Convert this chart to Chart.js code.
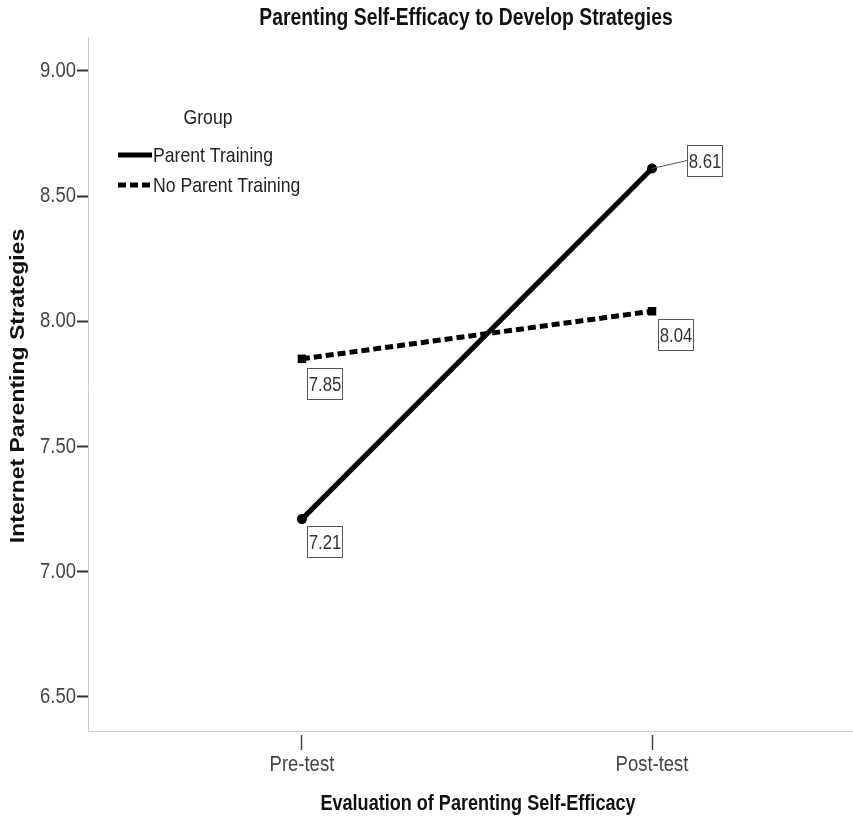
<!DOCTYPE html>
<html>
<head>
<meta charset="utf-8">
<script src="https://cdn.jsdelivr.net/npm/chart.js@4"></script>
<style>
  html, body { margin: 0; padding: 0; background: #fff; }
  #wrap { width: 853px; height: 819px; }
</style>
</head>
<body>
<div id="wrap"><canvas id="c" width="853" height="819"></canvas></div>
<script>
// ---- data ----
const categories = ['Pre-test', 'Post-test'];
const parentTraining = [7.21, 8.61];
const noParentTraining = [7.85, 8.04];
const yTicks = [6.5, 7.0, 7.5, 8.0, 8.5, 9.0];
const seriesNames = ['Parent Training', 'No Parent Training'];

const FONT = '"Liberation Sans", Arial, sans-serif';
const SQ = 0.84; // horizontal squeeze of the reference's text

// label box placement (style): offsets relative to each point
const labelOffsets = [
  [{dx: 5, dy: 7}, {dx: 35, dy: -23, leader: true}],
  [{dx: 5, dy: 9}, {dx: 6, dy: 8}]
];

function txt(ctx, s, x, y, size, weight, align, color, rotate) {
  ctx.save();
  ctx.translate(x, y);
  if (rotate) {
    ctx.rotate(-Math.PI / 2);
    ctx.scale(1, SQ);
  } else {
    ctx.scale(SQ, 1);
  }
  ctx.font = (weight ? weight + ' ' : '') + size + 'px ' + FONT;
  ctx.textAlign = align;
  ctx.textBaseline = 'middle';
  ctx.fillStyle = color;
  ctx.fillText(s, 0, 0);
  ctx.restore();
}

const overlay = {
  id: 'overlay',
  afterDraw(chart) {
    const ctx = chart.ctx;
    ctx.save();
    // Titles
    txt(ctx, 'Parenting Self-Efficacy to Develop Strategies', 466, 19, 23, 'bold', 'center', '#111');
    txt(ctx, 'Evaluation of Parenting Self-Efficacy', 478, 804, 21.5, 'bold', 'center', '#111');
    txt(ctx, 'Internet Parenting Strategies', 19, 386, 23, 'bold', 'center', '#111', true);

    // Tick labels through the scales
    const xs = chart.scales.x, ys = chart.scales.y;
    yTicks.forEach(v => {
      txt(ctx, v.toFixed(2), 76, ys.getPixelForValue(v), 22, '', 'right', '#444');
    });
    categories.forEach((c, i) => {
      txt(ctx, c, xs.getPixelForValue(i), 765, 22, '', 'center', '#444');
    });

    // Legend
    txt(ctx, 'Group', 208, 118, 21, '', 'center', '#222');
    const legY = [155, 185];
    chart.data.datasets.forEach((ds, i) => {
      ctx.save();
      ctx.strokeStyle = '#000';
      ctx.lineWidth = 5;
      ctx.setLineDash(ds.borderDash || []);
      ctx.beginPath();
      ctx.moveTo(118, legY[i]);
      ctx.lineTo(152, legY[i]);
      ctx.stroke();
      ctx.restore();
      txt(ctx, ds.label, 153, legY[i] + 1, 21, '', 'left', '#222');
    });

    // Value boxes
    chart.data.datasets.forEach((ds, di) => {
      const meta = chart.getDatasetMeta(di);
      meta.data.forEach((pt, pi) => {
        const off = labelOffsets[di][pi];
        const bx = Math.round(pt.x + off.dx), by = Math.round(pt.y + off.dy);
        const w = 35, h = 31;
        const v = ds.data[pi].y;
        if (off.leader) {
          ctx.strokeStyle = '#555';
          ctx.lineWidth = 1;
          ctx.setLineDash([]);
          ctx.beginPath();
          ctx.moveTo(pt.x, pt.y);
          ctx.lineTo(bx, by + h / 2);
          ctx.stroke();
        }
        ctx.fillStyle = '#fff';
        ctx.fillRect(bx, by, w, h);
        ctx.strokeStyle = '#555';
        ctx.lineWidth = 1;
        ctx.strokeRect(bx + 0.5, by + 0.5, w, h);
        txt(ctx, v.toFixed(2), bx + w / 2 + 0.5, by + h / 2 + 1.5, 20, '', 'center', '#333');
      });
    });
    ctx.restore();
  }
};

const toXY = arr => arr.map((v, i) => ({x: i, y: v}));

new Chart(document.getElementById('c'), {
  type: 'line',
  data: {
    datasets: [
      {
        label: seriesNames[0],
        data: toXY(parentTraining),
        borderColor: '#000',
        backgroundColor: '#000',
        borderWidth: 5,
        pointStyle: 'circle',
        pointRadius: 5,
        pointBorderWidth: 0,
        tension: 0
      },
      {
        label: seriesNames[1],
        data: toXY(noParentTraining),
        borderColor: '#000',
        backgroundColor: '#000',
        borderWidth: 5,
        borderDash: [8, 4],
        pointStyle: 'rect',
        pointRadius: 6,
        pointBorderWidth: 0,
        tension: 0
      }
    ]
  },
  options: {
    responsive: false,
    animation: false,
    devicePixelRatio: 1,
    layout: { autoPadding: false, padding: { top: 37, right: 0, left: 0, bottom: 0 } },
    plugins: {
      legend: { display: false },
      title: { display: false },
      tooltip: { enabled: false }
    },
    scales: {
      x: {
        type: 'linear',
        min: -0.611,
        max: 1.574,
        afterBuildTicks(scale) { scale.ticks = categories.map((c, i) => ({value: i})); },
        afterFit(scale) { scale.height = 88; },
        ticks: { display: false },
        grid: {
          drawOnChartArea: false,
          drawTicks: true,
          tickLength: 20,
          tickColor: '#444',
          tickWidth: 1.5,
          tickBorderDash: [0, 3, 15, 50]
        },
        border: { display: true, color: '#cfcfcf', width: 1 }
      },
      y: {
        type: 'linear',
        min: 6.364,
        max: 9.135,
        afterBuildTicks(scale) { scale.ticks = yTicks.map(v => ({value: v})); },
        afterFit(scale) { scale.width = 88; },
        ticks: { display: false },
        grid: {
          drawOnChartArea: false,
          drawTicks: true,
          tickLength: 11,
          tickColor: '#333',
          tickWidth: 2
        },
        border: { display: true, color: '#cfcfcf', width: 1 }
      }
    }
  },
  plugins: [overlay]
});
</script>
</body>
</html>
